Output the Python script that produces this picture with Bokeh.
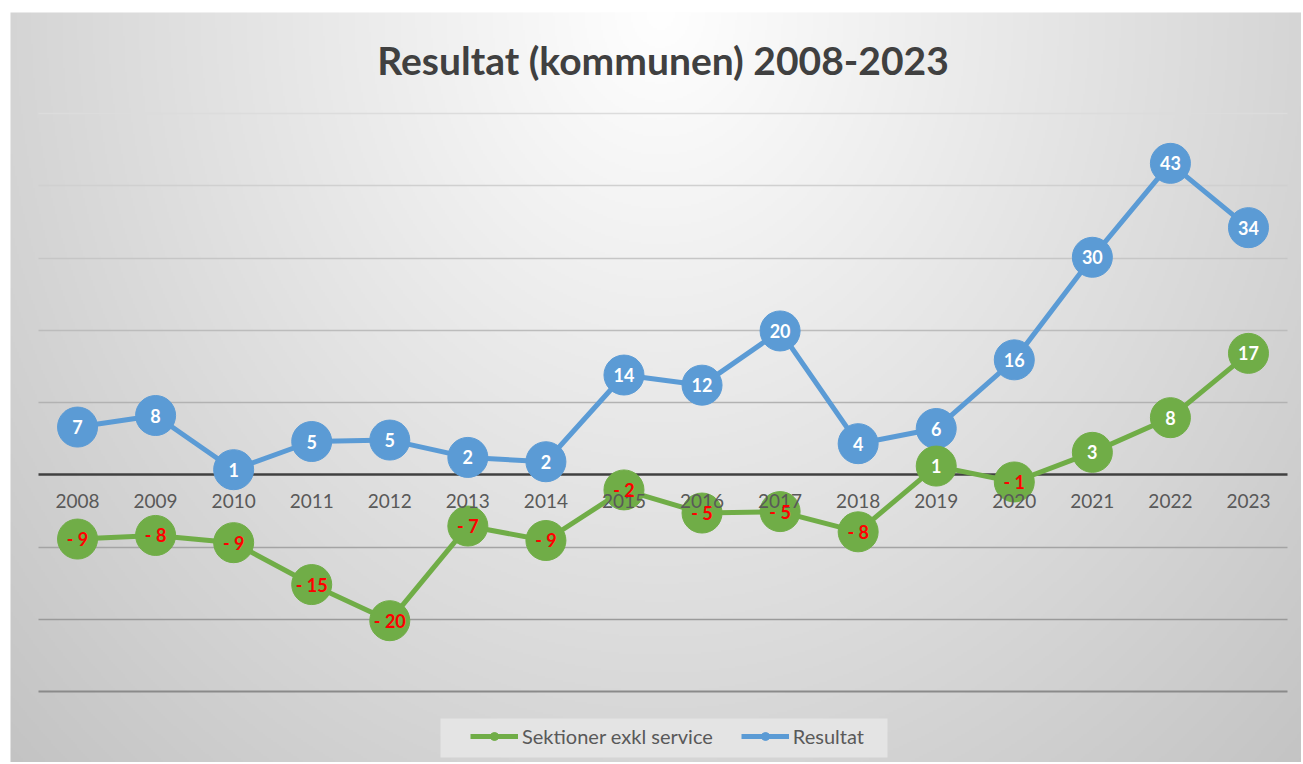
import numpy as np
from bokeh.plotting import figure
from bokeh.models import (Range1d, Grid, FixedTicker, LinearAxis, LabelSet, Label,
                          ColumnDataSource, Legend, LegendItem, BoxAnnotation)
from bokeh.core.properties import value
from bokeh.embed import file_html
from bokeh.resources import INLINE

# ---------------- data ----------------
years = list(range(2008, 2024))
resultat = [6.6, 8.2, 0.7, 4.6, 4.8, 2.4, 1.8, 13.8, 12.4, 19.9, 4.3, 6.4, 15.9, 30.1, 43.1, 34.2]
sektioner = [-8.9, -8.4, -9.4, -15.2, -20.2, -7.1, -9.1, -2.1, -5.3, -5.1, -7.9, 1.2, -1.0, 3.1, 7.9, 16.8]
y_ticks = [-30, -20, -10, 0, 10, 20, 30, 40, 50]
title_text = "Resultat (kommunen) 2008-2023"
series_names = ["Sektioner exkl service", "Resultat"]

BLUE = "#5B9BD5"
GREEN = "#70AD47"
FONT = "Lato"

W, H = 1301, 762
px_x = 1249 / 16.0
px_y = 578 / 80.0
x0 = 2007.5 - 38 / px_x
x1 = 2023.5 + (W - 1287) / px_x
y1 = 50 + 113 / px_y
y0 = -30 - (H - 691) / px_y

def dx(px):  # canvas pixel -> data x
    return x0 + px / px_x

def dy(py):  # canvas pixel (from top) -> data y
    return y1 - py / px_y

p = figure(width=W, height=H, output_backend="svg", toolbar_location=None,
           x_range=Range1d(x0, x1), y_range=Range1d(y0, y1),
           x_axis_location=None, y_axis_location=None, min_border=0)
p.min_border_left = p.min_border_right = p.min_border_top = p.min_border_bottom = 0
p.outline_line_color = None
p.xgrid.visible = False
p.ygrid.visible = False
p.background_fill_color = "#ffffff"
p.border_fill_color = "#ffffff"

# ---------------- radial background gradient (chart area starts at 10,12) ----------------
gx0, gy0 = 10, 12
gw, gh = W - gx0, H - gy0
ny, nx = gh // 2, gw // 2 + 1
xs = gx0 + (np.arange(nx) + 0.5) * (gw / nx)
ys = H - (np.arange(ny) + 0.5) * (gh / ny)
X, Y = np.meshgrid(xs, ys)
r = np.sqrt(((X - 660) / 645.0) ** 2 + ((Y - 12) / 750.0) ** 2)
g = np.clip(255 - 42 * r, 0, 255).astype(np.uint8)
img = np.empty((ny, nx), dtype=np.uint32)
view = img.view(dtype=np.uint8).reshape((ny, nx, 4))
view[..., 0] = g
view[..., 1] = g
view[..., 2] = g
view[..., 3] = 255
p.image_rgba(image=[img], x=dx(gx0), y=y0, dw=gw / px_x, dh=gh / px_y, level="image")

# ---------------- grid lines ----------------
def add_grid(ticks, color, width):
    gr = Grid(dimension=1, ticker=FixedTicker(ticks=ticks),
              grid_line_color=color, grid_line_width=width)
    try:
        gr.cross_bounds = (2007.5, 2023.5)
    except Exception:
        pass
    p.add_layout(gr)

shade = {50: "#dcdcdc", 40: "#d0d0d0", 30: "#c6c6c6", 20: "#bcbcbc", 10: "#b2b2b2",
         -10: "#a4a4a4", -20: "#9a9a9a"}
for t in y_ticks:
    if t == 0:
        continue
    if t == -30:
        add_grid([t], "#8a8a8a", 2)
    else:
        add_grid([t], shade[t], 1.5)
add_grid([0], "#404040", 2.5)

# ---------------- series ----------------
def fmt(v):
    n = round(v)
    return f"- {abs(n)}" if n < 0 else str(n)

src_b = ColumnDataSource(dict(
    x=years, y=resultat, label=[fmt(v) for v in resultat],
    color=["#FF0000" if round(v) < 0 else "#FFFFFF" for v in resultat]))
src_g = ColumnDataSource(dict(
    x=years, y=sektioner, label=[fmt(v) for v in sektioner],
    color=["#FF0000" if round(v) < 0 else "#FFFFFF" for v in sektioner]))

lb = p.line("x", "y", source=src_b, line_color=BLUE, line_width=5)
mb = p.scatter("x", "y", source=src_b, size=40, fill_color=BLUE, line_color=BLUE)
lg = p.line("x", "y", source=src_g, line_color=GREEN, line_width=5)
mg = p.scatter("x", "y", source=src_g, size=40, fill_color=GREEN, line_color=GREEN)

# ---------------- x axis (year labels at zero) ----------------
ax = LinearAxis(ticker=FixedTicker(ticks=years), fixed_location=0)
ax.axis_line_color = None
ax.major_tick_line_color = None
ax.minor_tick_line_color = None
ax.major_tick_out = 0
ax.major_tick_in = 0
ax.major_label_standoff = 19
ax.major_label_text_font = FONT
ax.major_label_text_font_size = "19px"
ax.major_label_text_color = "#595959"
p.add_layout(ax, "below")

# ---------------- data labels ----------------
for src in (src_b, src_g):
    p.add_layout(LabelSet(x="x", y="y", text="label", source=src,
                          text_color="color", text_font=value(FONT),
                          text_font_style="bold", text_font_size="18px",
                          text_align="center", text_baseline="middle"))

# ---------------- title ----------------
p.add_layout(Label(x=2015.5, y=dy(59), text=title_text,
                   text_font=FONT, text_font_style="bold", text_font_size="39px",
                   text_color="#404040", text_align="center", text_baseline="middle"))

# ---------------- legend ----------------
p.add_layout(BoxAnnotation(left=dx(440), right=dx(887), top=dy(718), bottom=dy(757),
                           fill_color="#e4e4e4", fill_alpha=1, line_color=None))
legend = Legend(items=[LegendItem(label=series_names[0], renderers=[lg, mg]),
                       LegendItem(label=series_names[1], renderers=[lb, mb])],
                orientation="horizontal", location=(470, 14))
legend.background_fill_alpha = 0
legend.border_line_color = None
legend.label_text_font = FONT
legend.label_text_font_size = "20px"
legend.label_text_color = "#595959"
legend.glyph_width = 48
legend.glyph_height = 20
legend.label_height = 20
legend.label_standoff = 4
legend.spacing = 28
legend.padding = 0
legend.margin = 0
p.add_layout(legend)

open("out.html", "w").write(file_html(p, INLINE))
